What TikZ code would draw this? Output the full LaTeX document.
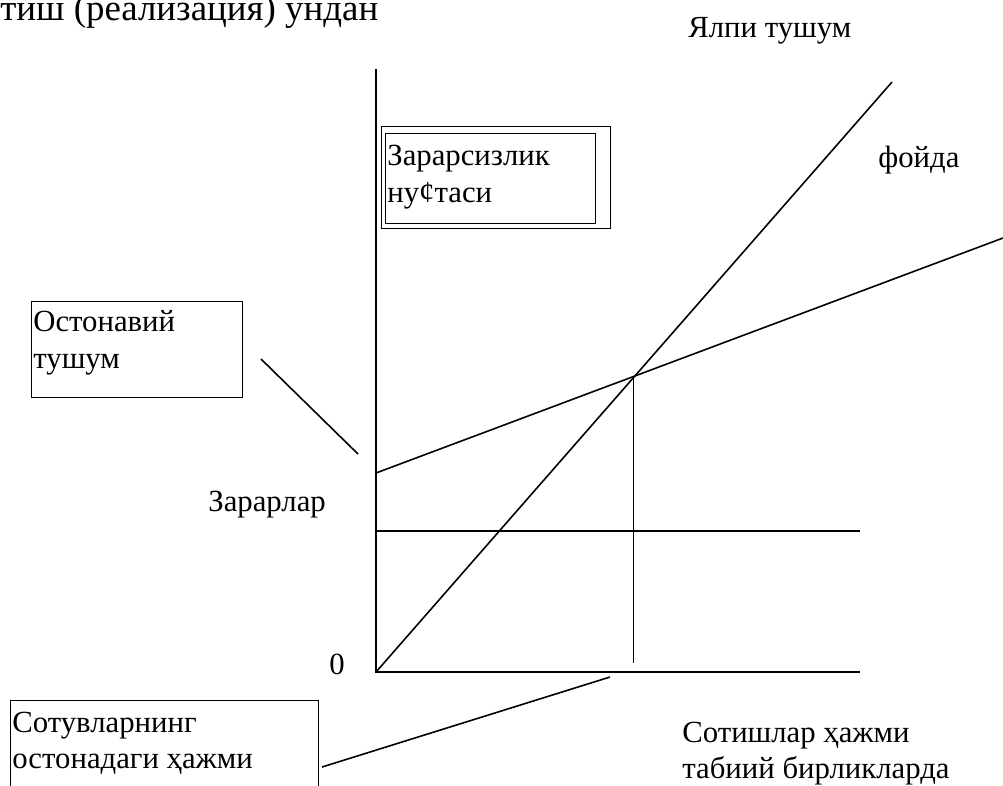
\documentclass[tikz,border=0pt]{standalone}
\usepackage{fontspec}
\setmainfont{Liberation Serif}
\usetikzlibrary{calc}

\begin{document}
\begin{tikzpicture}[x=0.02cm, y=-0.02cm,
        font=\fontsize{17.5}{21}\selectfont,
        axis/.style={black, line width=1.1pt},
        graph/.style={black, line width=0.9pt},
        thinline/.style={black, line width=0.55pt},
        lbl/.style={anchor=base west, inner sep=0pt},
        framebox/.style={draw, black, line width=0.7pt, anchor=north west, inner sep=0pt}]
                \useasboundingbox (0,0) rectangle (1003,785);
                % axes
                \coordinate (O) at (376,672);
                \coordinate (ytop) at (376,69);
                \coordinate (xend) at (860,672);
                \draw[axis] (ytop) -- (O) -- (xend);
                % revenue, costs, fixed costs
                \coordinate (rev) at (892,82);
                \coordinate (cost0) at (376,473);
                \coordinate (cost1) at (1003,238);
                \coordinate (fix0) at (376,531);
                \coordinate (fix1) at (860,531);
                \draw[graph] (O) -- (rev);
                \draw[graph] (cost0) -- (cost1);
                \draw[graph] (fix0) -- (fix1);
                \coordinate (be) at (633,377);
                \coordinate (befoot) at (633,663);
                \draw[thinline] (be) -- (befoot);
                % labels
                \node[lbl, font=\fontsize{21}{25}\selectfont] (head) at (0,20) {тиш (реализация) ундан};
                \node[lbl] (total) at (688,37) {Ялпи тушум};
                \node[lbl] (profit) at (878,167) {фойда};
                \node[lbl] (loss) at (208,511) {Зарарлар};
                \node[lbl] (zero) at (329,674) {0};
                \node[lbl] (vol1) at (682,742) {Сотишлар ҳажми};
                \node[lbl] (vol2) at (682,778) {табиий бирликларда};
                % break-even box
                \node[framebox, minimum width=229*0.02cm, minimum height=102*0.02cm] (beout) at (381,126) {};
                \node[framebox, minimum width=210*0.02cm, minimum height=90*0.02cm] (bein) at (385,133) {};
                \node[lbl] (be1) at (387,165) {Зарарсизлик};
                \node[lbl] (be2) at (387,202) {ну¢таси};
                % threshold revenue box
                \node[framebox, minimum width=211*0.02cm, minimum height=96*0.02cm] (thr) at (31,301) {};
                \node[lbl] (thr1) at (33,331) {Остонавий};
                \node[lbl] (thr2) at (33,368) {тушум};
                \coordinate (lead1a) at (261,359);
                \coordinate (lead1b) at (358,454);
                \draw[graph] (lead1a) -- (lead1b);
                % threshold volume box
                \node[framebox, minimum width=308*0.02cm, minimum height=110*0.02cm] (vol) at (10,700) {};
                \node[lbl] (vol3) at (12,732) {Сотувларнинг};
                \node[lbl] (vol4) at (12,768) {остонадаги ҳажми};
                \coordinate (lead2a) at (322,767);
                \coordinate (lead2b) at (610,677);
                \draw[graph] (lead2a) -- (lead2b);

            \end{tikzpicture}
\end{document}
